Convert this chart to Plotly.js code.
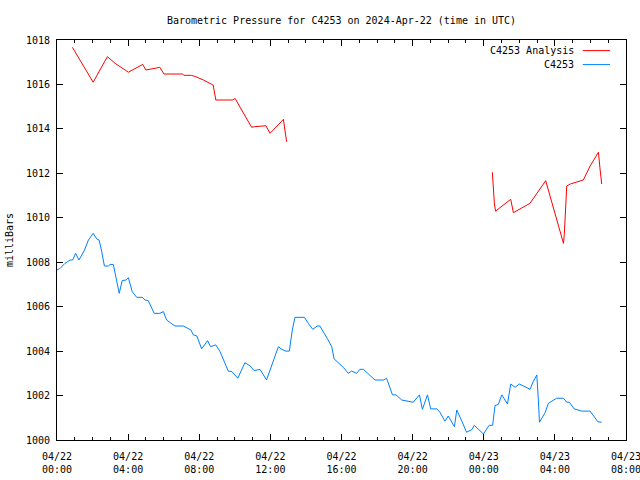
<!DOCTYPE html>
<html>
<head>
<meta charset="utf-8">
<script src="https://cdn.plot.ly/plotly-3.0.1.min.js"></script>
<style>html,body{margin:0;padding:0;background:#fff}#chart{width:640px;height:480px}</style>
</head>
<body>
<div id="chart"></div>
<script>
// ---- data ----
const seriesNames = ["C4253 Analysis", "C4253"];
const seriesColors = ["#ff0000", "#0080ff"];

const analysisTimes = [
  "2024-04-22 00:52","2024-04-22 02:02","2024-04-22 02:50","2024-04-22 03:16","2024-04-22 04:01",
  "2024-04-22 04:26","2024-04-22 04:49","2024-04-22 05:00","2024-04-22 05:25","2024-04-22 05:47",
  "2024-04-22 06:01","2024-04-22 07:04","2024-04-22 07:08","2024-04-22 07:34","2024-04-22 07:48",
  "2024-04-22 08:14","2024-04-22 08:47","2024-04-22 08:56","2024-04-22 09:53","2024-04-22 10:01",
  "2024-04-22 10:23","2024-04-22 10:57","2024-04-22 11:06","2024-04-22 11:36","2024-04-22 11:45",
  "2024-04-22 11:59","2024-04-22 12:44","2024-04-22 12:49","2024-04-22 12:55",
  "2024-04-22 18:00",
  "2024-04-23 00:29","2024-04-23 00:32","2024-04-23 00:36","2024-04-23 00:40","2024-04-23 01:23",
  "2024-04-23 01:31","2024-04-23 01:40","2024-04-23 02:36","2024-04-23 03:29","2024-04-23 04:29",
  "2024-04-23 04:32","2024-04-23 04:40","2024-04-23 04:52","2024-04-23 05:36","2024-04-23 05:59",
  "2024-04-23 06:27","2024-04-23 06:32","2024-04-23 06:38"
];
const analysisValues = [
  1017.67,1016.10,1017.25,1016.95,1016.55,
  1016.72,1016.90,1016.65,1016.72,1016.77,
  1016.47,1016.47,1016.41,1016.41,1016.35,
  1016.20,1015.97,1015.30,1015.30,1015.37,
  1014.85,1014.07,1014.10,1014.14,1014.14,
  1013.80,1014.43,1013.95,1013.42,
  null,
  1012.05,1011.17,1010.62,1010.30,1010.77,
  1010.83,1010.23,1010.65,1011.67,1008.85,
  1009.30,1011.43,1011.52,1011.70,1012.33,
  1012.95,1012.25,1011.52
];

const stationTimes = [
  "2024-04-22 00:00","2024-04-22 00:10","2024-04-22 00:27","2024-04-22 00:44","2024-04-22 00:53",
  "2024-04-22 01:03","2024-04-22 01:14","2024-04-22 01:32","2024-04-22 01:46","2024-04-22 02:02",
  "2024-04-22 02:14","2024-04-22 02:22","2024-04-22 02:31","2024-04-22 02:40","2024-04-22 02:53",
  "2024-04-22 02:59","2024-04-22 03:10","2024-04-22 03:18","2024-04-22 03:30","2024-04-22 03:40",
  "2024-04-22 03:53","2024-04-22 04:01","2024-04-22 04:07","2024-04-22 04:14","2024-04-22 04:29",
  "2024-04-22 04:48","2024-04-22 04:57","2024-04-22 05:08","2024-04-22 05:28","2024-04-22 05:47",
  "2024-04-22 05:59","2024-04-22 06:10","2024-04-22 06:22","2024-04-22 06:38","2024-04-22 07:06",
  "2024-04-22 07:23","2024-04-22 07:32","2024-04-22 07:40","2024-04-22 07:52","2024-04-22 08:08",
  "2024-04-22 08:28","2024-04-22 08:38","2024-04-22 08:56","2024-04-22 09:10","2024-04-22 09:22",
  "2024-04-22 09:38","2024-04-22 09:50","2024-04-22 10:10","2024-04-22 10:34","2024-04-22 10:51",
  "2024-04-22 11:05","2024-04-22 11:25","2024-04-22 11:47","2024-04-22 12:02","2024-04-22 12:27",
  "2024-04-22 12:36","2024-04-22 12:52","2024-04-22 13:04","2024-04-22 13:14","2024-04-22 13:23",
  "2024-04-22 13:55","2024-04-22 14:08","2024-04-22 14:23","2024-04-22 14:38","2024-04-22 14:47",
  "2024-04-22 15:12","2024-04-22 15:27","2024-04-22 15:35","2024-04-22 15:46","2024-04-22 16:06",
  "2024-04-22 16:23","2024-04-22 16:34","2024-04-22 16:51","2024-04-22 17:02","2024-04-22 17:14",
  "2024-04-22 17:31","2024-04-22 17:53","2024-04-22 18:23","2024-04-22 18:32","2024-04-22 18:52",
  "2024-04-22 19:04","2024-04-22 19:23","2024-04-22 19:40","2024-04-22 20:02","2024-04-22 20:23",
  "2024-04-22 20:33","2024-04-22 20:50","2024-04-22 21:01","2024-04-22 21:22","2024-04-22 21:32",
  "2024-04-22 21:49","2024-04-22 22:00","2024-04-22 22:21","2024-04-22 22:29","2024-04-22 22:46",
  "2024-04-22 23:02","2024-04-22 23:20","2024-04-22 23:28","2024-04-22 23:59",
  "2024-04-23 00:18","2024-04-23 00:30","2024-04-23 00:38","2024-04-23 00:49","2024-04-23 01:01",
  "2024-04-23 01:20","2024-04-23 01:31","2024-04-23 01:46","2024-04-23 02:00","2024-04-23 02:19",
  "2024-04-23 02:36","2024-04-23 02:47","2024-04-23 02:59","2024-04-23 03:04","2024-04-23 03:08",
  "2024-04-23 03:27","2024-04-23 03:38","2024-04-23 04:06","2024-04-23 04:29","2024-04-23 04:40",
  "2024-04-23 04:49","2024-04-23 05:05","2024-04-23 05:31","2024-04-23 05:59","2024-04-23 06:25",
  "2024-04-23 06:38"
];
const stationValues = [
  1007.65,1007.72,1007.95,1008.10,1008.10,
  1008.40,1008.10,1008.52,1009.00,1009.30,
  1009.05,1009.00,1008.47,1007.83,1007.83,
  1007.90,1007.90,1007.43,1006.60,1007.17,
  1007.20,1007.30,1007.05,1006.67,1006.42,
  1006.42,1006.30,1006.27,1005.70,1005.70,
  1005.78,1005.40,1005.28,1005.13,1005.13,
  1005.03,1004.95,1004.73,1004.68,1004.10,
  1004.47,1004.20,1004.28,1003.98,1003.60,
  1003.10,1003.08,1002.78,1003.48,1003.34,
  1003.12,1003.18,1002.70,1003.25,1004.20,
  1004.10,1004.00,1004.00,1004.95,1005.52,
  1005.52,1005.25,1004.98,1005.13,1005.13,
  1004.57,1004.20,1003.65,1003.52,1003.27,
  1003.00,1003.10,1003.00,1003.18,1003.18,
  1002.96,1002.70,1002.70,1002.78,1002.03,
  1002.03,1001.80,1001.76,1001.70,1002.03,
  1001.38,1002.03,1001.40,1001.40,1001.25,
  1000.85,1001.08,1000.60,1001.35,1000.85,
  1000.35,1000.47,1000.66,1000.27,
  1000.66,1000.66,1001.55,1001.60,1002.03,
  1001.62,1002.52,1002.37,1002.52,1002.40,
  1002.28,1002.63,1002.93,1001.88,1000.80,
  1001.23,1001.65,1001.88,1001.88,1001.70,
  1001.70,1001.40,1001.30,1001.30,1000.82,
  1000.80
];

const xTickVals = ["2024-04-22 00:00","2024-04-22 04:00","2024-04-22 08:00","2024-04-22 12:00",
  "2024-04-22 16:00","2024-04-22 20:00","2024-04-23 00:00","2024-04-23 04:00","2024-04-23 08:00"];
const xTickText = ["04/22<br>00:00","04/22<br>04:00","04/22<br>08:00","04/22<br>12:00",
  "04/22<br>16:00","04/22<br>20:00","04/23<br>00:00","04/23<br>04:00","04/23<br>08:00"];
const yTickVals = [1000,1002,1004,1006,1008,1010,1012,1014,1016,1018];

const titleText = "Barometric Pressure for C4253 on 2024-Apr-22 (time in UTC)";
const yTitleText = "milliBars";

// ---- chart ----
const FONT = "DejaVu Sans Mono, monospace";
const traces = [
  {x: analysisTimes, y: analysisValues, name: seriesNames[0], type: "scatter", mode: "lines",
   connectgaps: false, line: {color: seriesColors[0], width: 1}, showlegend: false},
  {x: stationTimes, y: stationValues, name: seriesNames[1], type: "scatter", mode: "lines",
   line: {color: seriesColors[1], width: 1}, showlegend: false}
];

const legendY = [0.9735, 0.9385];
const annotations = seriesNames.map((n, i) => ({
  xref: "paper", yref: "paper", x: 0.912, y: legendY[i], xanchor: "right", yanchor: "middle",
  text: n, showarrow: false, font: {family: FONT, size: 10, color: "#000"}
}));
const shapes = seriesNames.map((n, i) => ({
  type: "line", xref: "paper", yref: "paper", x0: 0.924, x1: 0.972, y0: legendY[i], y1: legendY[i],
  line: {color: seriesColors[i], width: 1}
}));

const layout = {
  width: 640, height: 480,
  margin: {l: 57, r: 14, t: 40, b: 40, pad: 0},
  paper_bgcolor: "#fff", plot_bgcolor: "#fff",
  font: {family: FONT, size: 10, color: "#000"},
  title: {text: titleText, x: 0.5, xref: "paper", y: 0.957, yanchor: "middle",
          font: {family: FONT, size: 10, color: "#000"}},
  xaxis: {
    type: "date",
    range: ["2024-04-22 00:00", "2024-04-23 08:00"],
    tickmode: "array", tickvals: xTickVals, ticktext: xTickText,
    ticks: "inside", ticklen: 6, tickcolor: "#000", tickwidth: 1,
    minor: {dtick: 3600000, tick0: "2024-04-22 00:00", ticks: "inside", ticklen: 3, tickcolor: "#000", tickwidth: 1, showgrid: false},
    showline: true, linecolor: "#000", linewidth: 1, mirror: "ticks",
    showgrid: false, zeroline: false, fixedrange: true,
    ticklabeloverflow: "allow", ticklabelstandoff: 7,
    automargin: false,
    tickfont: {family: FONT, size: 10, color: "#000"}
  },
  yaxis: {
    range: [1000, 1018],
    tickmode: "array", tickvals: yTickVals,
    ticks: "inside", ticklen: 6, tickcolor: "#000", tickwidth: 1,
    showline: true, linecolor: "#000", linewidth: 1, mirror: "ticks",
    showgrid: false, zeroline: false, fixedrange: true,
    ticklabelstandoff: 4, automargin: false,
    tickfont: {family: FONT, size: 10, color: "#000"},
    title: {text: yTitleText, standoff: 10, font: {family: FONT, size: 10, color: "#000"}}
  },
  annotations: annotations,
  shapes: shapes
};

Plotly.newPlot("chart", traces, layout, {staticPlot: true, displayModeBar: false});
</script>
</body>
</html>
